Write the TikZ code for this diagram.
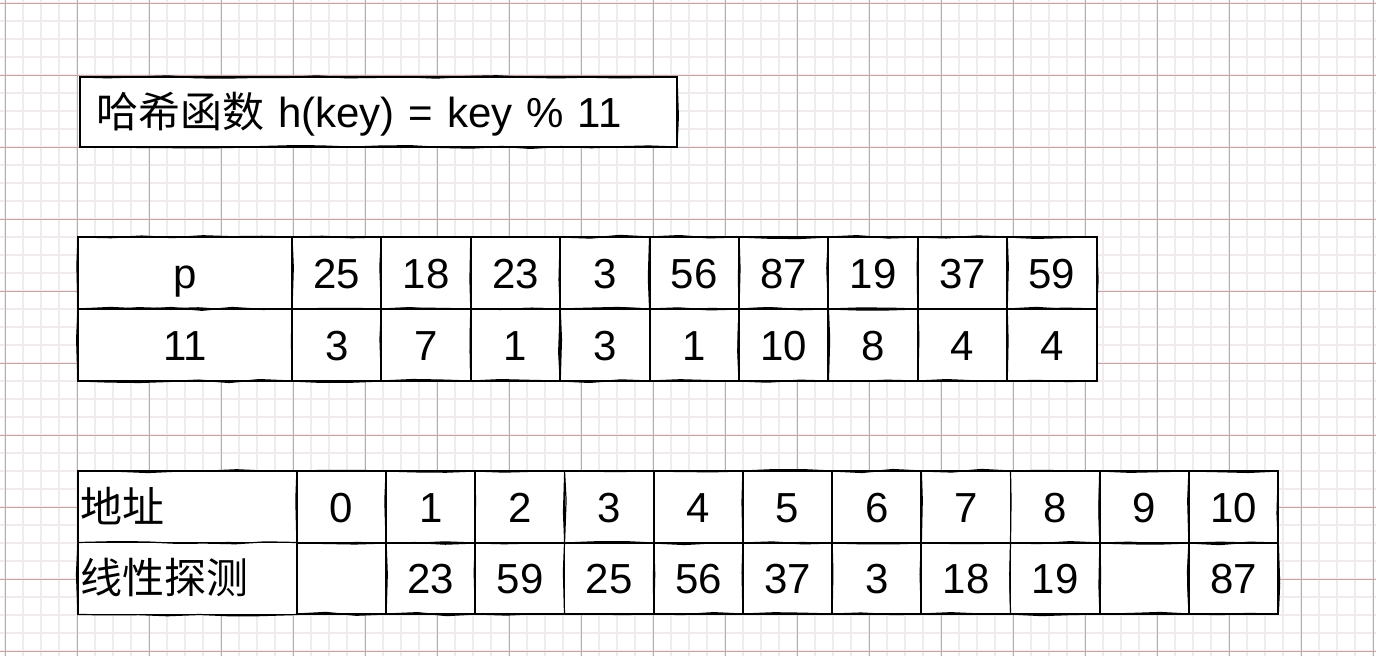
\documentclass[tikz,border=0pt]{standalone}
\usepackage{fontspec}
\setmainfont{Liberation Sans}
\newfontfamily\cjk{Noto Sans CJK SC}
\usetikzlibrary{decorations.pathmorphing}
\definecolor{gridminor}{RGB}{242,235,235}
\definecolor{gridmajor}{RGB}{196,166,166}
\tikzset{
	sketch/.style={postaction={draw, line width=1.2pt, decorate, decoration={random steps, segment length=30pt, amplitude=1.6pt}}},
	cell/.style={draw, fill=white, line width=1.9pt, sketch, minimum width=89.4pt, minimum height=72pt, inner sep=0pt, text height=30pt, text depth=0pt},
	headcell/.style={cell, minimum width=219pt, text width=215pt, align=left},
}
\begin{document}
\begin{tikzpicture}[x=1pt, y=-1pt, font={\fontsize{42}{50}\selectfont}]
		\pgfmathsetseed{11}
		\fill[white] (0,0) rectangle (1376,656);
		\useasboundingbox (0,0) rectangle (1376,656);
		\foreach \gx in {5,23,...,1375} \draw[gridminor, line width=1.8pt] (\gx,0) -- (\gx,656);
		\foreach \gy in {3,21,...,655} \draw[gridminor, line width=1.8pt] (0,\gy) -- (1376,\gy);
		\foreach \gx in {5,77,...,1375} \draw[gridmajor, line width=0.9pt] (\gx,0) -- (\gx,656);
		\foreach \gy in {3,75,...,655} \draw[gridmajor, line width=0.9pt] (0,\gy) -- (1376,\gy);
		
		\node[cell, minimum height=70pt, text width=565pt, inner xsep=16pt, align=left] (hashfn) at (378.5,112) {{\cjk 哈希函数} h(key) = key \% 11};
		
		\node[cell, minimum width=214pt] (key0) at (185,273) {p};
		\node[cell, minimum width=214pt] (mod0) at (185,345) {11};
		\foreach \v [count=\i] in {25,18,23,3,56,87,19,37,59}
			\node[cell] (key\i) at ({292+89.4*(\i-0.5)},273) {\v};
		\foreach \v [count=\i] in {3,7,1,3,1,10,8,4,4}
			\node[cell] (mod\i) at ({292+89.4*(\i-0.5)},345) {\v};
		
		\node[headcell] (addr) at (187.5,507) {\cjk 地址};
		\node[headcell] (probe) at (187.5,578.5) {\cjk 线性探测};
		\foreach \v [count=\i] in {0,1,2,3,4,5,6,7,8,9,10}
			\node[cell] (addr\i) at ({297+89.2*(\i-0.5)},507) {\v};
		\foreach \v [count=\i] in {{},23,59,25,56,37,3,18,19,{},87}
			\node[cell, minimum height=71pt] (probe\i) at ({297+89.2*(\i-0.5)},578.5) {\v};
	\end{tikzpicture}
\end{document}
